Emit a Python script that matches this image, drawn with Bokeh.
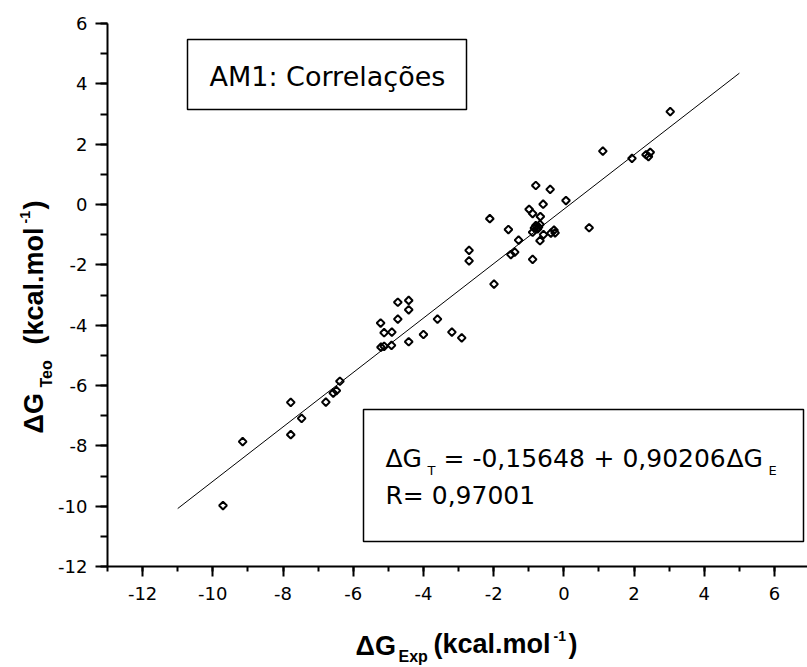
import math
from bokeh.plotting import figure
from bokeh.layouts import row, column
from bokeh.models import (Range1d, SingleIntervalTicker, Label, BoxAnnotation,
                          PrintfTickFormatter)
from bokeh.core.properties import value
from bokeh.embed import file_html
from bokeh.resources import INLINE

# ---------------- data ----------------
dg_exp = [-9.71, -9.15, -7.78, -7.78, -7.47, -6.78, -6.57, -6.48, -6.38,
          -5.22, -5.12, -4.90, -5.21, -5.12, -4.91, -4.73, -4.42, -4.42,
          -4.73, -4.42, -4.00, -3.60, -3.19, -2.91, -2.70, -2.70, -2.11,
          -1.99, -1.58, -1.51, -1.40, -1.29, -0.99, -0.89, -0.89, -0.80,
          -0.67, -0.80, -0.68, -0.75, -0.89, -0.68, -0.58, -0.59, -0.39,
          -0.37, -0.28, -0.25, 0.06, 0.72, 1.11, 1.94, 2.34, 2.46, 2.41,
          3.03, -0.72, -0.84]
dg_teo = [-9.98, -7.86, -6.56, -7.63, -7.09, -6.55, -6.25, -6.17, -5.86,
          -3.93, -4.25, -4.23, -4.73, -4.70, -4.67, -3.24, -3.18, -3.49,
          -3.80, -4.55, -4.31, -3.80, -4.23, -4.42, -1.52, -1.87, -0.47,
          -2.64, -0.83, -1.66, -1.58, -1.18, -0.16, -0.30, -1.82, 0.63,
          -0.40, -0.70, -0.66, -0.81, -0.92, -1.20, -1.00, 0.01, 0.50,
          -0.95, -0.85, -0.94, 0.13, -0.77, 1.77, 1.53, 1.65, 1.73, 1.59,
          3.08, -0.75, -0.78]

fit_intercept = -0.15648
fit_slope = 0.90206
fit_r = 0.97001
fit_x_ends = [-11.0, 5.0]
fit_y_ends = [fit_intercept + fit_slope * v for v in fit_x_ends]

x_start, x_end = -13.0, 6.94
y_start, y_end = -12.0, 6.0

# ---------------- layout (page pixels) ----------------
TOTAL_W, TOTAL_H = 807, 667
YLAB_W = 54                      # left strip holding the y-axis title
MAIN_W = TOTAL_W - YLAB_W
BL, BT, FW, FH, BB = 53, 23, 700, 543, 50
MAIN_H = BT + FH + BB
XLAB_H = TOTAL_H - MAIN_H
FRAME_LEFT = YLAB_W + BL
FRAME_TOP = BT
MID = 0.35                       # baseline -> middle of text, in em

SX = FW / (x_end - x_start)
SY = FH / (y_end - y_start)

REG = "DejaVu Sans"
LAB = "Liberation Sans"


def dx(px):  # page pixel -> data x of main plot
    return x_start + (px - FRAME_LEFT) / SX


def dy(py):  # page pixel -> data y of main plot
    return y_end - (py - FRAME_TOP) / SY


def fmt(v):
    return f"{v:.5f}".replace(".", ",")


# ---------------- main plot ----------------
p = figure(width=MAIN_W, height=MAIN_H, output_backend="svg", toolbar_location=None,
           x_range=Range1d(x_start, x_end), y_range=Range1d(y_start, y_end),
           min_border_left=BL, min_border_right=0, min_border_top=BT,
           min_border_bottom=BB)
p.outline_line_color = None
p.grid.visible = False
p.background_fill_color = "white"
p.border_fill_color = "white"

p.xaxis.ticker = SingleIntervalTicker(interval=2, num_minor_ticks=2)
p.yaxis.ticker = SingleIntervalTicker(interval=2, num_minor_ticks=2)
for ax in (p.xaxis, p.yaxis):
    ax.formatter = PrintfTickFormatter(format="%d")
    ax.axis_line_width = 2
    ax.axis_line_color = "black"
    ax.major_tick_line_width = 2
    ax.minor_tick_line_width = 2
    ax.major_tick_line_color = "black"
    ax.minor_tick_line_color = "black"
    ax.major_tick_in = 0
    ax.minor_tick_in = 0
    ax.major_label_text_font = REG
    ax.major_label_text_font_size = "18px"
    ax.major_label_text_color = "black"
p.xaxis.major_tick_out = 10
p.xaxis.minor_tick_out = 5
p.xaxis.major_label_standoff = 10
p.yaxis.major_tick_out = 12
p.yaxis.minor_tick_out = 7
p.yaxis.major_label_standoff = 8

# regression line
p.line(fit_x_ends, fit_y_ends, line_color="black", line_width=1)

# data points: open diamonds
p.scatter(dg_exp, dg_teo, marker="square", angle=math.pi / 4, size=5.5,
          fill_color=None, line_color="black", line_width=2)

# boxes
for l, r, t, b in ((187, 466, 39, 109), (363, 803, 409, 541)):
    p.add_layout(BoxAnnotation(left=dx(l), right=dx(r), top=dy(t), bottom=dy(b),
                               fill_color="white", fill_alpha=1.0,
                               line_color="black", line_alpha=1.0, line_width=1.5))


def lab(text, px, base_py, size, font=REG):
    p.add_layout(Label(x=dx(px), y=dy(base_py - MID * size), text=text,
                       text_font=font, text_font_size=f"{size}px",
                       text_color="black", text_align="left",
                       text_baseline="middle"))


lab("AM1: Correlações", 209, 85, 27)

lab("ΔG", 385, 467, 25)
lab("T", 427, 475, 13)
lab("= " + fmt(fit_intercept), 443, 467, 25)
lab("+ " + fmt(fit_slope), 593, 467, 25)
lab("ΔG", 726, 467, 25)
lab("E", 768, 475, 13)
lab("R= " + fmt(fit_r), 385, 504, 25)


# ---------------- axis-title strips ----------------
def strip(w, h, x0, x1, y0, y1, border_left=0):
    f = figure(width=w, height=h, output_backend="svg", toolbar_location=None,
               x_range=Range1d(x0, x1), y_range=Range1d(y0, y1),
               x_axis_type=None, y_axis_type=None,
               min_border_left=border_left, min_border_right=0,
               min_border_top=0, min_border_bottom=0)
    f.outline_line_color = None
    f.background_fill_color = "white"
    f.border_fill_color = "white"
    return f


# strips use page pixel coordinates (y measured from the bottom of the page)
ylab = strip(YLAB_W, TOTAL_H, 0, YLAB_W, 0, TOTAL_H)
xlab = strip(MAIN_W, XLAB_H, FRAME_LEFT, TOTAL_W, 0, XLAB_H, border_left=BL)


def put(f, text, px, py, size, angle=0.0):
    f.text(x=[px], y=[TOTAL_H - py], text=[text],
           text_font=value(LAB), text_font_size=value(f"{size}px"),
           text_font_style=value("bold"), text_color="black",
           text_align="left", text_baseline="middle", angle=angle)


# x-axis title:  ΔG_Exp (kcal.mol^-1)   (px, baseline y)
for t, px, by, s in (("ΔG", 355, 655, 27), ("Exp", 398, 662, 16),
                     ("(kcal.mol", 433, 653, 27), ("-1", 553, 640, 14),
                     (")", 568, 653, 27)):
    put(xlab, t, px, by - MID * s, s)

# y-axis title (rotated):  ΔG_Teo (kcal.mol^-1)   (baseline x, start y)
R = math.pi / 2
for t, bx, py, s in (("ΔG", 43, 433, 27), ("Teo", 52, 387, 16),
                     ("(kcal.mol", 43, 344, 27), ("-1", 29, 223, 14),
                     (")", 43, 209, 27)):
    ylab.text(x=[bx - MID * s], y=[TOTAL_H - py], text=[t],
              text_font=value(LAB), text_font_size=value(f"{s}px"),
              text_font_style=value("bold"), text_color="black",
              text_align="left", text_baseline="middle", angle=R)

layout = row(ylab, column(p, xlab, spacing=0), spacing=0)

open("out.html", "w").write(file_html(layout, INLINE))
